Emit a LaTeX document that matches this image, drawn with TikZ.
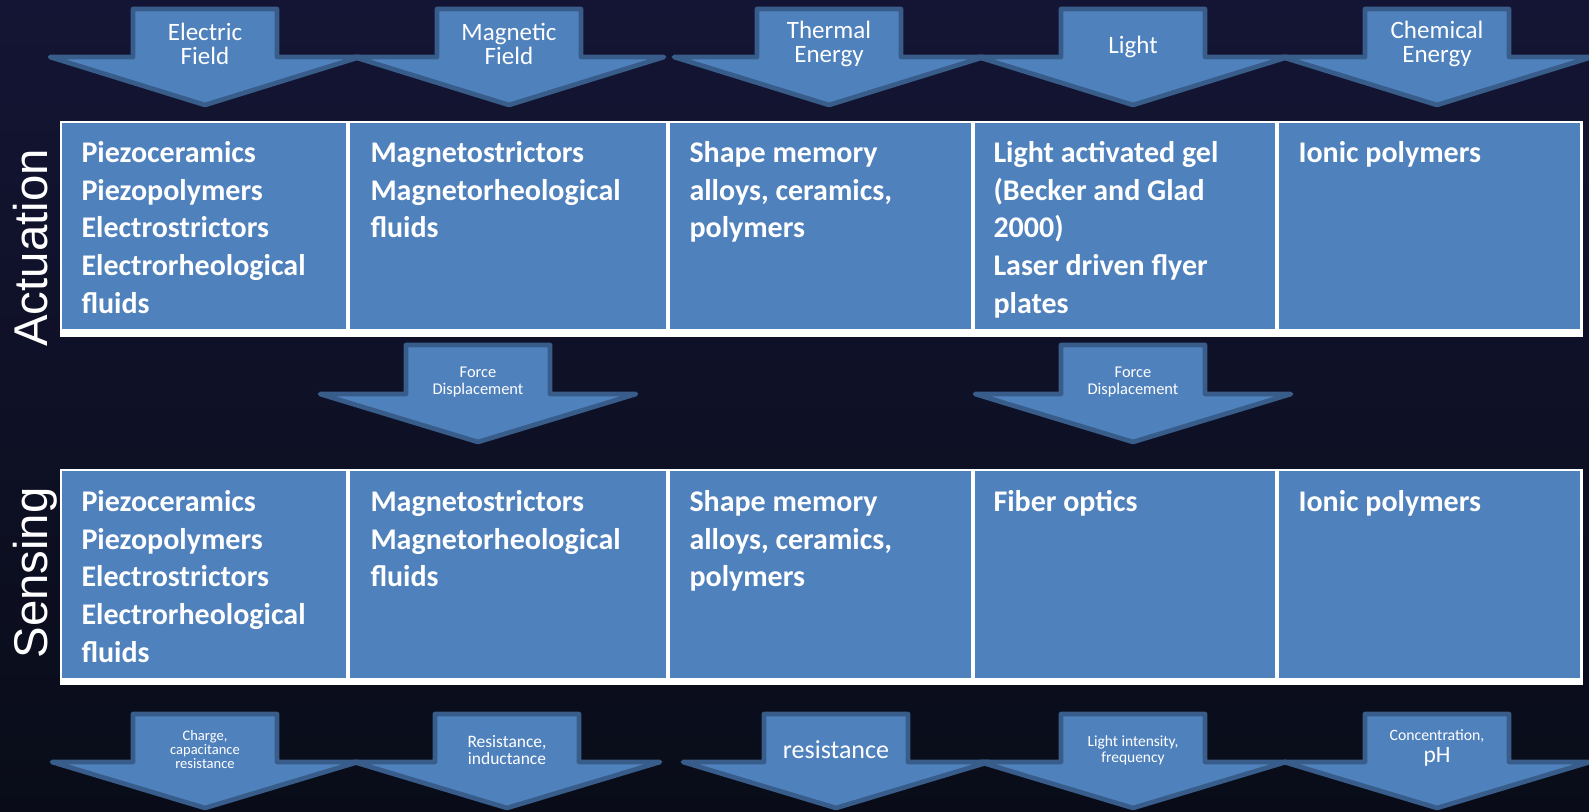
\documentclass[tikz,border=0pt]{standalone}
\usepackage{fontspec}
\setmainfont{Carlito}
\newfontfamily\arialfont{Liberation Sans}
\usepackage{tikz}
\definecolor{bgtop}{RGB}{20,21,52}
\definecolor{bgbottom}{RGB}{9,12,24}
\definecolor{arrowblue}{RGB}{79,129,189}
\definecolor{arrowedge}{RGB}{56,93,138}
\definecolor{cellblue}{RGB}{79,129,189}
\tikzset{every picture/.style={line width=0.75pt}}
\tikzset{
  blockarrow/.style={fill=arrowblue, draw=arrowedge, line width=3.5pt, line join=round},
  celltext/.style={anchor=north west, align=left, text=white, inner sep=0pt,
    font=\bfseries\fontsize{22.5}{28.3}\selectfont},
  toplabel/.style={text=white, align=center, inner sep=0pt,
    font=\fontsize{18.75}{18.4}\selectfont},
  sidelabel/.style={rotate=90, anchor=base, text=white, inner sep=0pt,
    font=\arialfont\fontsize{35.5}{35.5}\selectfont},
}

\begin{document}
\begin{tikzpicture}[x=0.75pt,y=0.75pt,yscale=-1,xscale=1]
\useasboundingbox (0,0) rectangle (1589,811);
%Background
\shade [top color=bgtop, bottom color=bgbottom] (0,0) rectangle (1589,811);

%Shape: Down Arrow - Electric Field
\draw [blockarrow] (133,9) -- (277,9) -- (277,57) -- (360,57) -- (205,105) -- (50,57) -- (133,57) -- cycle ;
%Shape: Down Arrow - Magnetic Field
\draw [blockarrow] (437,9) -- (581,9) -- (581,57) -- (664,57) -- (509,105) -- (354,57) -- (437,57) -- cycle ;
%Shape: Down Arrow - Thermal Energy
\draw [blockarrow] (757,9) -- (901,9) -- (901,57) -- (984,57) -- (829,105) -- (674,57) -- (757,57) -- cycle ;
%Shape: Down Arrow - Light
\draw [blockarrow] (1061,9) -- (1205,9) -- (1205,57) -- (1288,57) -- (1133,105) -- (978,57) -- (1061,57) -- cycle ;
%Shape: Down Arrow - Chemical Energy
\draw [blockarrow] (1365,9) -- (1509,9) -- (1509,57) -- (1592,57) -- (1437,105) -- (1282,57) -- (1365,57) -- cycle ;

%Text Node
\node [toplabel] (efield) at (205,44) {Electric\\Field};
\node [toplabel] (mfield) at (509,44) {Magnetic\\Field};
\node [toplabel] (thermal) at (829,44) {Thermal\\Energy};
\node [toplabel] (light) at (1133,47) {Light};
\node [toplabel] (chem) at (1437,44) {Chemical\\Energy};

%Shape: Table - Actuation
\fill [white] (60,121) rectangle (1583,337) ;
\fill [cellblue] (62,123) rectangle (346,329) ;
\fill [cellblue] (350,123) rectangle (666,329) ;
\fill [cellblue] (670,123) rectangle (971,329) ;
\fill [cellblue] (975,123) rectangle (1275,329) ;
\fill [cellblue] (1279,123) rectangle (1580,329) ;

%first baseline at y=162, strut reaches 26.4 above it
\node [celltext] (act1) at (81,135.6) {\strut Piezoceramics\\Piezopolymers\\Electrostrictors\\Electrorheological\\fluids};
\node [celltext] (act2) at (370,135.6) {\strut Magnetostrictors\\Magnetorheological\\fluids};
\node [celltext] (act3) at (689,135.6) {\strut Shape memory\\alloys, ceramics,\\polymers};
\node [celltext] (act4) at (993,135.6) {\strut Light activated gel\\(Becker and Glad\\2000)\\Laser driven flyer\\plates};
\node [celltext] (act5) at (1298,135.6) {\strut Ionic polymers};

%Text Node - row labels
\node [sidelabel] (actlabel) at (47,248) {Actuation};
\node [sidelabel] (senslabel) at (47,573) {Sensing};

%Shape: Down Arrow - Force Displacement
\draw [blockarrow] (406,345) -- (550,345) -- (550,394) -- (636,394) -- (478,442) -- (320,394) -- (406,394) -- cycle ;
\draw [blockarrow] (1061,345) -- (1205,345) -- (1205,394) -- (1291,394) -- (1133,442) -- (975,394) -- (1061,394) -- cycle ;
\node [toplabel, font=\fontsize{12.3}{12.75}\selectfont] (fdisp1) at (478,382) {Force\\Displacement};
\node [toplabel, font=\fontsize{12.3}{12.75}\selectfont] (fdisp2) at (1133,382) {Force\\Displacement};

%Shape: Table - Sensing
\fill [white] (60,469) rectangle (1583,685) ;
\fill [cellblue] (62,471) rectangle (346,678) ;
\fill [cellblue] (350,471) rectangle (666,678) ;
\fill [cellblue] (670,471) rectangle (971,678) ;
\fill [cellblue] (975,471) rectangle (1275,678) ;
\fill [cellblue] (1279,471) rectangle (1580,678) ;

\node [celltext] (sens1) at (81,484.6) {\strut Piezoceramics\\Piezopolymers\\Electrostrictors\\Electrorheological\\fluids};
\node [celltext] (sens2) at (370,484.6) {\strut Magnetostrictors\\Magnetorheological\\fluids};
\node [celltext] (sens3) at (689,484.6) {\strut Shape memory\\alloys, ceramics,\\polymers};
\node [celltext] (sens4) at (993,484.6) {\strut Fiber optics};
\node [celltext] (sens5) at (1298,484.6) {\strut Ionic polymers};

%Shape: Down Arrow - outputs
\draw [blockarrow] (133,714) -- (277,714) -- (277,762) -- (358,762) -- (205,808) -- (52,762) -- (133,762) -- cycle ;
\draw [blockarrow] (435,714) -- (579,714) -- (579,762) -- (660,762) -- (507,808) -- (354,762) -- (435,762) -- cycle ;
\draw [blockarrow] (764,714) -- (908,714) -- (908,762) -- (989,762) -- (836,808) -- (683,762) -- (764,762) -- cycle ;
\draw [blockarrow] (1061,714) -- (1205,714) -- (1205,762) -- (1286,762) -- (1133,808) -- (980,762) -- (1061,762) -- cycle ;
\draw [blockarrow] (1365,714) -- (1509,714) -- (1509,762) -- (1590,762) -- (1437,808) -- (1284,762) -- (1365,762) -- cycle ;

%Text Node
\node [toplabel, font=\fontsize{10.9}{10.5}\selectfont] (charge) at (205,749) {Charge,\\capacitance\\resistance};
\node [toplabel, font=\fontsize{13.1}{12.75}\selectfont] (resind) at (507,750) {Resistance,\\inductance};
\node [toplabel, font=\fontsize{19.5}{19.5}\selectfont] (resist) at (836,750) {resistance};
\node [toplabel, font=\fontsize{11.6}{12}\selectfont] (lightint) at (1133,750) {Light intensity,\\frequency};
\node [toplabel, font=\fontsize{11.8}{12}\selectfont] (conc) at (1437,748) {Concentration,\\[3pt]\fontsize{17.6}{15}\selectfont pH};

\end{tikzpicture}
\end{document}
